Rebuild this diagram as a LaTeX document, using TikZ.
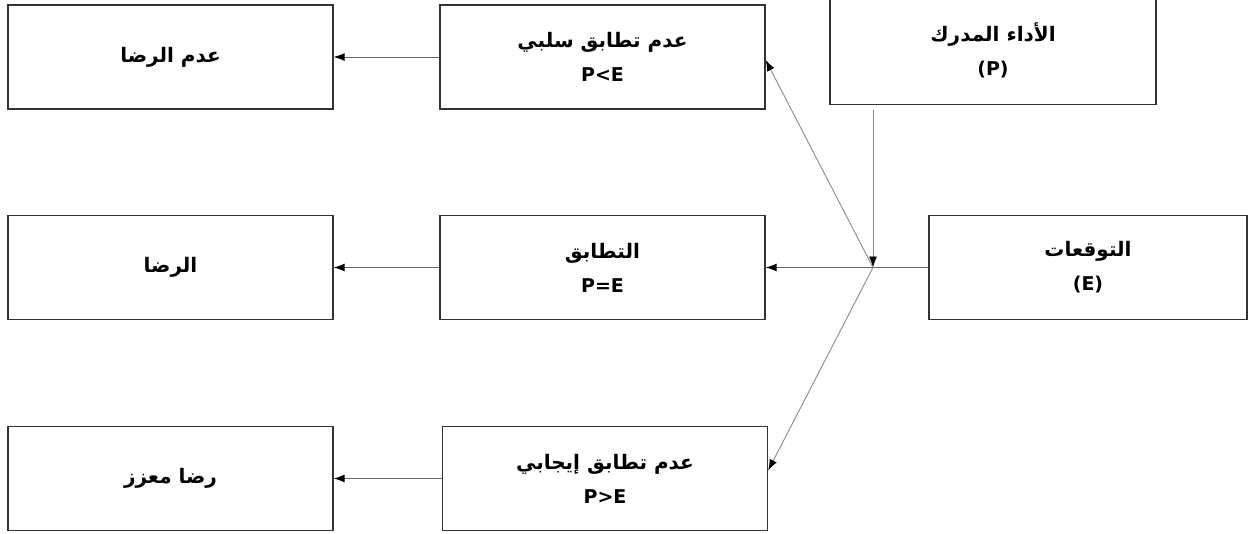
\documentclass[tikz,border=0pt]{standalone}
\usepackage{fontspec}
\usetikzlibrary{arrows.meta}
\TeXXeTstate=1
\setmainfont{DejaVu Sans}
\newfontfamily\arabicfont[Script=Arabic]{DejaVu Sans}
\newcommand{\ar}[1]{{\arabicfont\fontsize{20}{34}\selectfont\beginR #1\endR}}
\definecolor{edgegray}{HTML}{333333}
\definecolor{linkgray}{HTML}{8A8A8A}
\definecolor{flowgray}{HTML}{666666}
\begin{document}
\begin{tikzpicture}[x=1pt,y=-1pt,
  box/.style={draw=edgegray,line width=1.3pt,fill=white,inner sep=0pt,
    minimum width=325pt,minimum height=104pt,align=center,
    font=\fontsize{19}{34}\selectfont\bfseries},
  flow/.style={draw=flowgray,line width=0.9pt,-{Latex[length=11pt,width=8pt,color=black,fill=black]}},
  link/.style={draw=linkgray,line width=0.9pt,-{Latex[length=11pt,width=8pt,color=black,fill=black]}},
  plain/.style={draw=flowgray,line width=0.9pt}]
\useasboundingbox (0,0) rectangle (1248,533);
% outcome column
\node[box] (A) at (170.5,57) {\ar{عدم الرضا}};
\node[box] (C) at (170.5,267.5) {\ar{الرضا}};
\node[box] (F) at (170.5,478.5) {\ar{رضا معزز}};
% comparison column
\node[box] (B) at (602.5,57) {\ar{عدم تطابق سلبي}\\P<E};
\node[box] (D) at (602.5,267.5) {\ar{التطابق}\\P=E};
\node[box] (G) at (605,478.5) {\ar{عدم تطابق إيجابي}\\P>E};
% inputs
\node[box,minimum width=326pt,minimum height=108pt] (P) at (993,50.5) {\ar{الأداء المدرك}\\(P)};
\node[box,minimum width=318pt] (E) at (1088,267.5) {\ar{التوقعات}\\(E)};
% junction of the two inputs
\coordinate (J) at (873,267.5);
\coordinate (Pout) at (873,110);
\draw[link] (Pout) -- (J);
\draw[plain] (E.west) -- (J);
\draw[flow] (J) -- (D.east);
\draw[link] (J) -- ([yshift=-3pt]B.east);
\draw[link] (J) -- ([yshift=8pt]G.east);
% comparison to outcome
\draw[flow] (B.west) -- (A.east);
\draw[flow] (D.west) -- (C.east);
\draw[flow] (G.west) -- (F.east);
\end{tikzpicture}
\end{document}
